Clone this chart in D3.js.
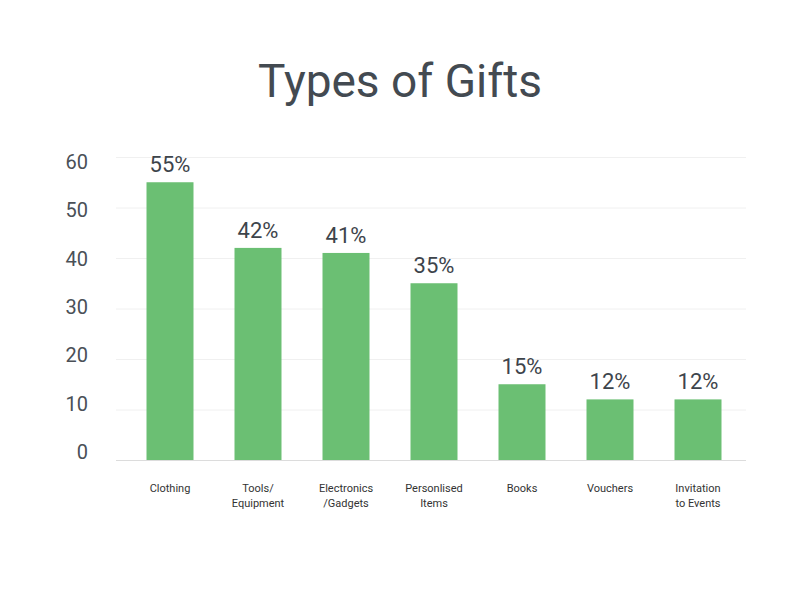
<!DOCTYPE html>
<html>
<head>
<meta charset="utf-8">
<script src="https://cdn.jsdelivr.net/npm/d3@7"></script>
<style>
  body { margin: 0; background: #fff; }
  text { font-family: Roboto, "Open Sans", sans-serif; }
</style>
</head>
<body>
<div id="chart"></div>
<script>
// data
var categories = ["Clothing", "Tools/\nEquipment", "Electronics\n/Gadgets", "Personlised\nItems", "Books", "Vouchers", "Invitation\nto Events"];
var values = [55, 42, 41, 35, 15, 12, 12];
var yTicks = [0, 10, 20, 30, 40, 50, 60];

var svgWidth = 800, svgHeight = 600;

var svg = d3.select('#chart')
  .append('svg')
  .attr('width', svgWidth)
  .attr('height', svgHeight);

var data = categories.map(function(c, i) { return {cat: c, val: values[i]}; });

// scales
var x = d3.scaleBand()
  .domain(categories)
  .range([126, 742])
  .paddingInner(0.466)
  .paddingOuter(0.233);

var y = d3.scaleLinear()
  .domain([0, 60])
  .range([460, 157]);

// tick labels sit on a slightly tighter spacing than the gridlines
var yLabel = d3.scaleLinear()
  .domain([0, 60])
  .range([452, 162]);

// title
svg.append('text')
  .attr('x', 400)
  .attr('y', 97)
  .attr('text-anchor', 'middle')
  .style('font-size', '46px')
  .style('fill', '#434a51')
  .text('Types of Gifts');

// gridlines
svg.selectAll('.grid')
  .data(yTicks)
  .enter()
  .append('line')
  .attr('x1', 116)
  .attr('x2', 746)
  .attr('y1', d => y(d) + 0.5)
  .attr('y2', d => y(d) + 0.5)
  .attr('stroke', d => d === 0 ? '#dcdcdc' : '#f0f0f0')
  .attr('stroke-width', 1);

// y labels
svg.selectAll('.ylab')
  .data(yTicks)
  .enter()
  .append('text')
  .attr('x', 88)
  .attr('y', d => yLabel(d))
  .attr('dy', '0.35em')
  .attr('text-anchor', 'end')
  .style('font-size', '20px')
  .style('fill', '#4a5057')
  .text(d => d);

// bars
svg.selectAll('.bar')
  .data(data)
  .enter()
  .append('rect')
  .attr('x', d => x(d.cat))
  .attr('y', d => y(d.val))
  .attr('width', x.bandwidth())
  .attr('height', d => y(0) - y(d.val))
  .attr('fill', '#6bbf73');

// value labels
svg.selectAll('.val')
  .data(data)
  .enter()
  .append('text')
  .attr('x', d => x(d.cat) + x.bandwidth() / 2)
  .attr('y', d => y(d.val) - 10)
  .attr('text-anchor', 'middle')
  .style('font-size', '22px')
  .style('fill', '#3d444b')
  .text(d => d.val + '%');

// category labels
var catLab = svg.selectAll('.cat')
  .data(data)
  .enter()
  .append('text')
  .attr('text-anchor', 'middle')
  .style('font-size', '11px')
  .style('fill', '#333');

catLab.each(function(d) {
  var lines = d.cat.split('\n');
  var t = d3.select(this);
  lines.forEach(function(l, i) {
    t.append('tspan')
      .attr('x', x(d.cat) + x.bandwidth() / 2)
      .attr('y', 492 + i * 15)
      .text(l);
  });
});
</script>
</body>
</html>
